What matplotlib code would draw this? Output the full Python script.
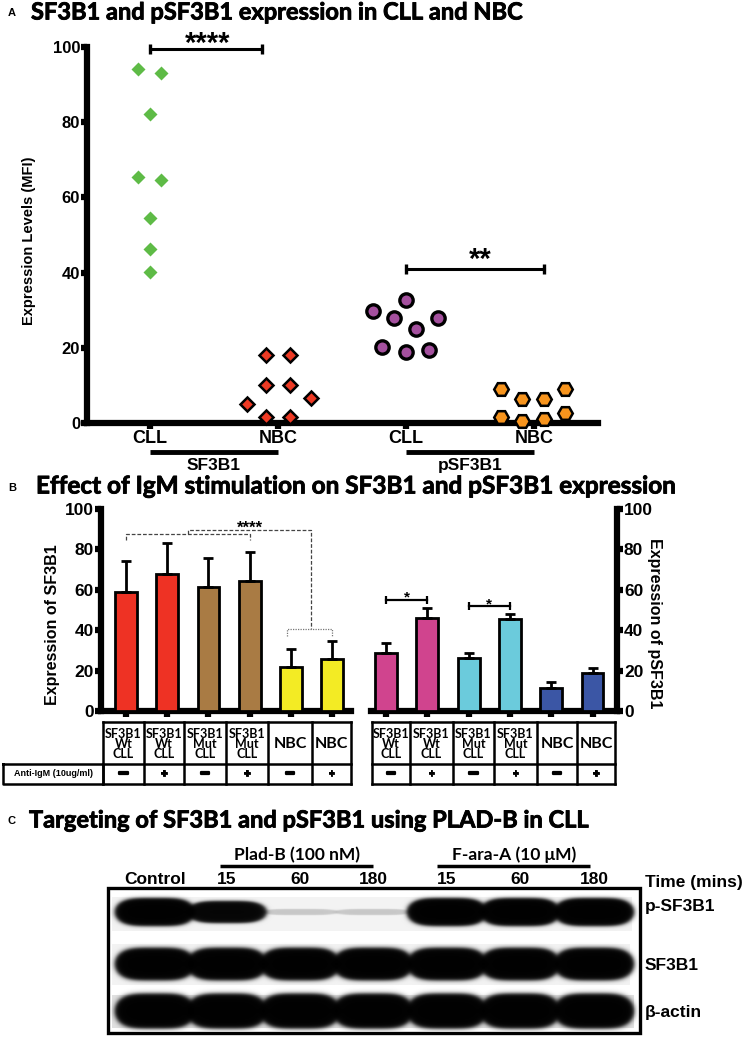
import numpy as np
import matplotlib
matplotlib.use("Agg")
import matplotlib.pyplot as plt
import matplotlib.patheffects as pe
from matplotlib.patches import Rectangle

W, H = 749, 1037
ARIAL = "Liberation Sans"
TITLE = "Lato"

# ---------- panel A: expression levels (MFI) ----------
groups_a = ["CLL", "NBC", "CLL", "NBC"]
group_names_a = ["SF3B1", "pSF3B1"]
sf3b1_cll = [94.1, 93.2, 82.1, 65.5, 64.6, 54.4, 46.3, 40.2]
sf3b1_nbc = [18.1, 18.1, 10.1, 10.1, 5.1, 6.6, 1.5, 1.5]
psf3b1_cll = [32.7, 29.9, 27.9, 27.9, 25.0, 20.1, 18.8, 19.4]
psf3b1_nbc = [9.0, 6.4, 6.4, 9.0, 1.7, 0.5, 1.1, 2.6]
# horizontal scatter of the points inside each column
jit_sf3b1_cll = [-0.09, 0.09, 0.0, -0.09, 0.09, 0.0, 0.0, 0.0]
jit_sf3b1_nbc = [-0.09, 0.09, -0.09, 0.09, -0.24, 0.26, -0.09, 0.09]
jit_psf3b1_cll = [0.0, -0.26, -0.09, 0.25, 0.08, -0.19, 0.0, 0.18]
jit_psf3b1_nbc = [-0.26, -0.09, 0.08, 0.24, -0.26, -0.09, 0.08, 0.24]

# ---------- panel B: IgM stimulation ----------
conds_b = ["SF3B1\nWt\nCLL", "SF3B1\nWt\nCLL", "SF3B1\nMut\nCLL",
           "SF3B1\nMut\nCLL", "NBC", "NBC"]
anti_igm = ["−", "+", "−", "+", "−", "+"]
sf3b1_mean = [58.8, 67.7, 61.2, 64.5, 21.8, 25.7]
sf3b1_err = [15.5, 15.3, 14.5, 14.2, 8.9, 9.0]
psf3b1_mean = [28.9, 45.9, 26.1, 45.4, 11.5, 18.7]
psf3b1_err = [4.6, 4.9, 2.8, 2.5, 3.0, 2.7]
colors_b_left = ["#EE3224", "#EE3224", "#A97B44", "#A97B44", "#F3EB24", "#F3EB24"]
colors_b_right = ["#D0448E", "#D0448E", "#6BCBDC", "#6BCBDC", "#3B56A5", "#3B56A5"]

# ---------- panel C: western blot ----------
lane_labels = ["Control", "15", "60", "180", "15", "60", "180"]
blot_rows = ["p-SF3B1", "SF3B1", "β-actin"]
band_psf3b1 = [1.0, 0.75, 0.04, 0.04, 1.0, 1.0, 1.0]
band_sf3b1 = [1.0, 1.0, 1.0, 1.0, 1.0, 1.0, 1.0]
band_actin = [1.0, 1.0, 1.0, 1.0, 1.0, 1.0, 1.0]


def box(x0, y0, x1, y1):
    return [x0 / W, 1 - y1 / H, (x1 - x0) / W, (y1 - y0) / H]


fig = plt.figure(figsize=(W / 100, H / 100), dpi=100)
fig.patch.set_facecolor("white")

# overlay in pixel units for titles, tables and the blot
ov = fig.add_axes([0, 0, 1, 1])
ov.set_xlim(0, W)
ov.set_ylim(H, 0)
ov.axis("off")

bold = dict(fontweight="bold", family=ARIAL)
tbold = dict(fontweight="bold", family=TITLE)
thick = [pe.withStroke(linewidth=0.6, foreground="black")]

# ================= A =================
ov.text(8, 13, "A", fontsize=8, va="center", **bold)
ov.text(31, 12, "SF3B1 and pSF3B1 expression in CLL and NBC", fontsize=17,
        va="center", path_effects=thick, **tbold)

axA = fig.add_axes(box(87, 47, 598, 423))
axA.set_facecolor("none")
axA.set_xlim(-0.492, 3.5)
axA.set_ylim(0, 100)
for s in ["top", "right"]:
    axA.spines[s].set_visible(False)
for s in ["left", "bottom"]:
    axA.spines[s].set_linewidth(4.5)
axA.set_yticks(range(0, 101, 20))
axA.set_yticklabels([str(v) for v in range(0, 101, 20)], fontsize=12, **bold)
axA.set_xticks(range(4))
axA.set_xticklabels(groups_a, fontsize=13, **bold)
axA.tick_params(axis="both", length=4, width=4.5, direction="out", pad=1)
axA.set_ylabel("Expression Levels (MFI)", fontsize=10.5, **bold)
axA.yaxis.set_label_coords(-0.1, 0.485)

axA.plot(0 + np.array(jit_sf3b1_cll), sf3b1_cll, "D", ms=7.4, color="#5EBB46",
         mec="none", clip_on=False, zorder=5)
axA.plot(1 + np.array(jit_sf3b1_nbc), sf3b1_nbc, "D", ms=7.6, color="#EE3A24",
         mec="black", mew=1.8, clip_on=False, zorder=5)
axA.plot(2 + np.array(jit_psf3b1_cll), psf3b1_cll, "o", ms=9.6, color="#A4509E",
         mec="black", mew=2.4, clip_on=False, zorder=5)
axA.plot(3 + np.array(jit_psf3b1_nbc), psf3b1_nbc, "H", ms=10.5, color="#F7941D",
         mec="black", mew=1.8, clip_on=False, zorder=5)

trA = axA.get_xaxis_transform()
for k, name in enumerate(group_names_a):
    axA.plot([2 * k, 2 * k + 1], [-0.077, -0.077], transform=trA, color="black",
             lw=3.5, solid_capstyle="butt", clip_on=False)
    axA.text(2 * k + 0.5, -0.112, name, transform=trA, ha="center", va="center",
             fontsize=12.5, **bold)

axA.plot([0, 0.875], [99.5, 99.5], color="black", lw=2.2, marker="|", ms=7,
         mew=2.4, clip_on=False)
axA.text(0.45, 98.6, "****", ha="center", va="baseline", fontsize=21, **bold)
axA.plot([2, 3.08], [41, 41], color="black", lw=2.2, marker="|", ms=7,
         mew=2.4, clip_on=False)
axA.text(2.58, 41.3, "**", ha="center", va="baseline", fontsize=21, **bold)

# ================= B =================
ov.text(8, 488, "B", fontsize=8, va="center", **bold)
ov.text(36, 486, "Effect of IgM stimulation on SF3B1 and pSF3B1 expression",
        fontsize=17.5, va="center", path_effects=thick, **tbold)

xb = np.arange(6)
axL = fig.add_axes(box(101, 509, 351, 711))
axR = fig.add_axes(box(371, 509, 617, 711))
axL.set_xlim(-0.607, 5.46)
axR.set_xlim(-0.363, 5.593)
for ax, means, errs, cols in [(axL, sf3b1_mean, sf3b1_err, colors_b_left),
                              (axR, psf3b1_mean, psf3b1_err, colors_b_right)]:
    ax.set_facecolor("none")
    ax.set_ylim(0, 100)
    ax.bar(xb, means, width=0.53, color=cols, edgecolor="black", linewidth=2,
           yerr=[np.zeros(6), errs],
           error_kw=dict(elinewidth=2, capsize=3.5, capthick=2, ecolor="black"),
           zorder=3)
    ax.set_xticks(xb)
    ax.set_xticklabels([])
    ax.set_yticks(range(0, 101, 20))
    ax.set_yticklabels([str(v) for v in range(0, 101, 20)], fontsize=12.5, **bold)
    ax.tick_params(axis="both", length=4, width=4.5, direction="out", pad=1)
    ax.spines["top"].set_visible(False)
    ax.spines["bottom"].set_linewidth(4.5)

axL.spines["right"].set_visible(False)
axL.spines["left"].set_linewidth(4.5)
axL.set_ylabel("Expression of SF3B1", fontsize=11.5, **bold)
axL.yaxis.set_label_coords(-0.164, 0.43)

axR.spines["left"].set_visible(False)
axR.spines["right"].set_linewidth(4.5)
axR.yaxis.tick_right()
axR.yaxis.set_label_position("right")
axR.set_ylabel("Expression of pSF3B1", fontsize=11.5, rotation=-90,
               va="center", **bold)
axR.yaxis.set_label_coords(1.154, 0.435)

# significance brackets, left
dash = dict(color="#444444", lw=0.9, ls=(0, (3, 1.5)), clip_on=False)
axL.plot([0, 0, 3, 3], [84.6, 87.5, 87.5, 84.6], **dash)
axL.plot([1.5, 1.5, 4.5, 4.5], [87.5, 89.8, 89.8, 40.4], **dash)
axL.plot([3.9, 3.9, 5.0, 5.0], [37.0, 40.4, 40.4, 37.0], color="#777777",
         lw=0.9, ls=(0, (1, 1)), clip_on=False)
axL.text(3.0, 88.2, "****", ha="center", va="baseline", fontsize=12, **bold)
# significance brackets, right
for (a, b, y, ys) in [(0, 1, 55.0, 54.0), (2, 3, 52.0, 51.0)]:
    axR.plot([a, b], [y, y], color="black", lw=1.6, marker="|", ms=6, mew=1.6,
             clip_on=False)
    axR.text((a + b) / 2, ys, "*", ha="center", va="baseline", fontsize=11, **bold)

# condition tables
def draw_table(edges, y0, y1, y2):
    for x in edges:
        ov.plot([x, x], [y0, y2], color="black", lw=1.8, solid_capstyle="projecting")
    for y in (y0, y1, y2):
        ov.plot([edges[0], edges[-1]], [y, y], color="black", lw=1.8,
                solid_capstyle="projecting")
    for i in range(6):
        cx = (edges[i] + edges[i + 1]) / 2
        lab = conds_b[i]
        ov.text(cx, (y0 + y1) / 2 + 1, lab, ha="center", va="center",
                fontsize=11.5 if lab == "NBC" else 9, linespacing=0.85,
                **tbold)
        sign = anti_igm[i]
        if sign == "−":
            ov.text(cx, (y1 + y2) / 2, sign, ha="center", va="center",
                    fontsize=12,
                    path_effects=[pe.withStroke(linewidth=1.6, foreground="black")],
                    **bold)
        else:
            ov.text(cx, (y1 + y2) / 2, sign, ha="center", va="center",
                    fontsize=8.5, path_effects=thick, **bold)


draw_table([103, 144, 184, 226, 268, 312, 351], 722, 764, 784)
draw_table([372, 410, 453, 494, 537, 577, 615], 722, 764, 784)
ov.plot([3, 103, 103, 3, 3], [764, 764, 784, 784, 764], color="black", lw=1.8)
ov.text(53, 774, "Anti-IgM (10ug/ml)", ha="center", va="center", fontsize=6.5,
        **bold)

# ================= C =================
ov.text(8, 821, "C", fontsize=8, va="center", **bold)
ov.text(29, 820, "Targeting of SF3B1 and pSF3B1 using PLAD-B in CLL",
        fontsize=17, va="center", path_effects=thick, **tbold)

lane_x = [155, 227, 300, 373, 447, 520, 594]
ov.text(297, 855, "Plad-B (100 nM)", ha="center", va="center", fontsize=12.5,
        **tbold)
ov.plot([220, 373], [866, 866], color="black", lw=2.5, solid_capstyle="butt")
ov.text(514, 855, "F-ara-A (10 μM)", ha="center", va="center", fontsize=12.5,
        **tbold)
ov.plot([437, 590], [866, 866], color="black", lw=2.5, solid_capstyle="butt")
for x, lab in zip(lane_x, lane_labels):
    ov.text(x, 879, lab, ha="center", va="center", fontsize=12.5, **bold)
ov.text(645, 882, "Time (mins)", ha="left", va="center", fontsize=12.5, **bold)

# blot image
bx0, bx1, by0, by1 = 110, 638, 890, 1031
xs = np.arange(bx0, bx1) + 0.5
ys = np.arange(by0, by1) + 0.5
XX, YY = np.meshgrid(xs, ys)
img = np.ones_like(XX)
row_y = [912, 964, 1011]
row_hh = [12, 14, 15]
strips = [(112, 632, 897, 931, 0.95), (112, 630, 944, 985, 0.95),
          (112, 634, 995, 1028, 0.88)]
for (sx0, sx1, sy0, sy1, g) in strips:
    img[(XX >= sx0) & (XX <= sx1) & (YY >= sy0) & (YY <= sy1)] = g
dens = np.zeros_like(XX)
for ry, hh, inten in zip(row_y, row_hh, [band_psf3b1, band_sf3b1, band_actin]):
    for lx, I in zip(lane_x, inten):
        h = hh * (0.22 + 0.78 * I)
        r = (np.abs(XX - lx) / 37) ** 4 + ((YY - ry) / h) ** 2
        dens += I / (1 + np.exp((r - 1) / 0.22))
img = img * np.exp(-5.0 * dens)
ov.imshow(img, cmap="gray", vmin=0, vmax=1, extent=(bx0, bx1, by1, by0),
          aspect="auto", interpolation="bilinear", zorder=1)
ov.set_xlim(0, W)
ov.set_ylim(H, 0)
ov.add_patch(Rectangle((108, 888), 532, 145, fill=False, ec="black", lw=2.4,
                       zorder=2))
for ry, lab in zip([907, 966, 1013], blot_rows):
    ov.text(645, ry, lab, ha="left", va="center", fontsize=12.5, **bold)

fig.savefig("out.png", dpi=100, facecolor="white")
